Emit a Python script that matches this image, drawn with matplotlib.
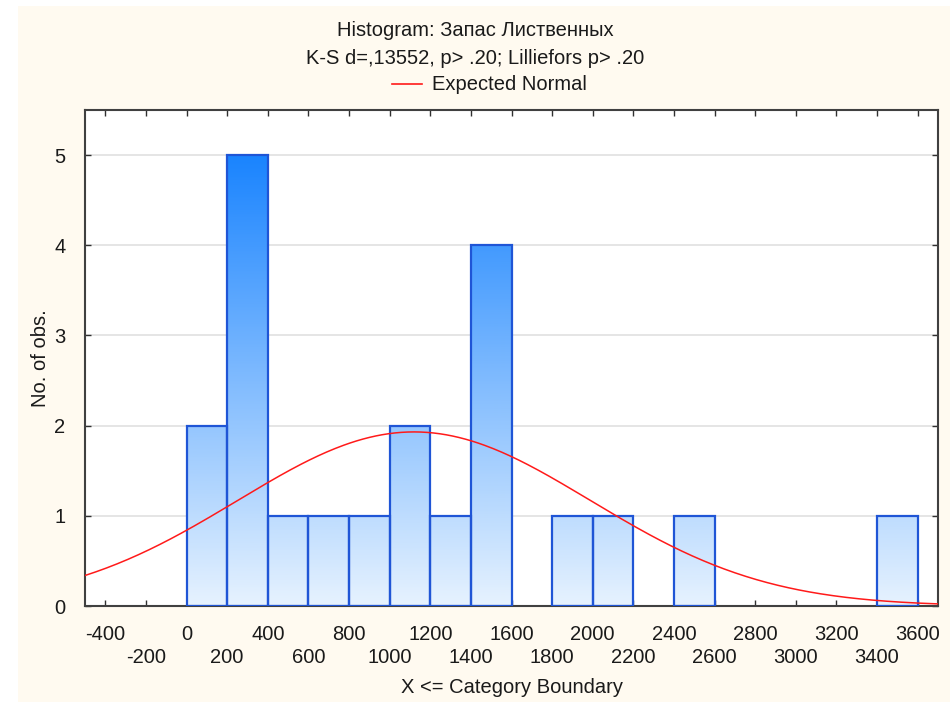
import numpy as np
import matplotlib.pyplot as plt
from matplotlib.colors import LinearSegmentedColormap
from matplotlib.patches import Rectangle

# histogram data: bin left edges (width 200) and counts
bin_edges = [0, 200, 400, 600, 800, 1000, 1200, 1400, 1600, 1800, 2000, 2200,
             2400, 2600, 2800, 3000, 3200, 3400]
counts = [2, 5, 1, 1, 1, 2, 1, 4, 0, 1, 1, 0, 1, 0, 0, 0, 0, 1]
bin_width = 200
n_obs = 21
norm_mean = 1120
norm_sd = 868

title_lines = ["Histogram: Запас Лиственных",
               "K-S d=,13552, p> .20; Lilliefors p> .20"]

plt.rcParams['font.family'] = ['Liberation Sans', 'DejaVu Sans']
FS = 14.5
TXT = '#1a1a1a'

fig = plt.figure(figsize=(9.5, 7.02), dpi=100)
fig.patch.set_facecolor('white')
fig.patches.append(Rectangle((18 / 950, 0), 1 - 18 / 950, 1 - 6 / 702,
                             transform=fig.transFigure, facecolor='#fffaf0',
                             edgecolor='none', zorder=-10))
ax = fig.add_axes([85 / 950, 1 - 606 / 702, (938 - 85) / 950, (606 - 110) / 702])
ax.set_facecolor('white')

xmin, xmax, ymax = -500, 3700, 5.5
ax.set_xlim(xmin, xmax)
ax.set_ylim(0, ymax)

# gradient fill by absolute height
cmap = LinearSegmentedColormap.from_list('g', ['#e6f2fe', '#1a84fe'])
grad = np.linspace(0, 1, 256).reshape(-1, 1) * (ymax / 5)
for x0, c in zip(bin_edges, counts):
    if c == 0:
        continue
    rect = Rectangle((x0, 0), bin_width, c, facecolor='none',
                     edgecolor='#1f55d6', linewidth=1.6, zorder=3)
    ax.add_patch(rect)
    im = ax.imshow(grad, cmap=cmap, vmin=0, vmax=1, origin='lower',
                   extent=[xmin, xmax, 0, ymax], aspect='auto', zorder=2,
                   interpolation='bilinear')
    im.set_clip_path(rect)

xs = np.linspace(xmin, xmax, 400)
ys = n_obs * bin_width / (norm_sd * np.sqrt(2 * np.pi)) * np.exp(-0.5 * ((xs - norm_mean) / norm_sd) ** 2)
ax.plot(xs, ys, color='#ff1a1a', linewidth=1.1, zorder=4)

ax.set_yticks([0, 1, 2, 3, 4, 5])
ax.yaxis.grid(True, color='#e0e0e0', linewidth=1.2, zorder=0)
ax.set_axisbelow(True)

xt = np.arange(-400, 3601, 200)
ax.set_xticks(xt)
ax.set_xticklabels([str(v) if (v // 200) % 2 == 0 else '\n' + str(v) for v in xt],
                   linespacing=1.25)
ax.tick_params(axis='both', direction='in', length=4, width=1, color='#303030',
               labelsize=FS, top=True, right=True, labelcolor=TXT)
ax.tick_params(axis='x', pad=14)
ax.tick_params(axis='y', pad=14)
for sp in ax.spines.values():
    sp.set_color('#404040')
    sp.set_linewidth(1.5)

ax.set_xlabel('X <= Category Boundary', fontsize=FS, color=TXT, labelpad=8)
ax.set_ylabel('No. of obs.', fontsize=FS, color=TXT, labelpad=3)

fig.text(0.5, 1 - 30 / 702, title_lines[0], ha='center', va='center', fontsize=FS, color=TXT)
fig.text(0.5, 1 - 58 / 702, title_lines[1], ha='center', va='center', fontsize=FS, color=TXT)
fig.lines.append(plt.Line2D([392 / 950, 422 / 950], [1 - 84 / 702] * 2,
                            transform=fig.transFigure, color='#ff1a1a', linewidth=1.2))
fig.text(432 / 950, 1 - 84 / 702, 'Expected Normal', ha='left', va='center', fontsize=FS, color=TXT)

fig.savefig('out.png', dpi=100, facecolor=fig.get_facecolor())
